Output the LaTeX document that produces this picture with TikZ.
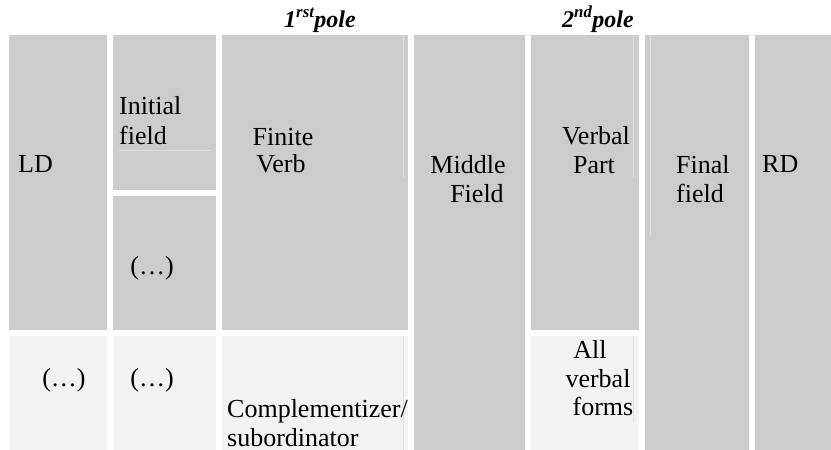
\documentclass[tikz,border=0pt]{standalone}
\usepackage{fontspec}
\setmainfont{Liberation Serif}
\begin{document}
\begin{tikzpicture}[x=1pt,y=-1pt,
  dark/.style={fill=black!20},
  light/.style={fill=black!5},
  seam/.style={draw=black!13,line width=0.7pt},
  lbl/.style={inner sep=0pt,anchor=base west,font=\fontsize{26}{30}\selectfont},
  clbl/.style={inner sep=0pt,anchor=base,font=\fontsize{26}{30}\selectfont},
  pole/.style={inner sep=0pt,anchor=base,font=\fontsize{24}{28}\selectfont\bfseries\itshape}]
\useasboundingbox (0,0) rectangle (831,450);

% upper row (dark cells)
\fill[dark] (9,35) rectangle (107,330);     % LD
\fill[dark] (113,35) rectangle (216,190);   % initial field
\fill[dark] (113,196) rectangle (216,330);  % (...)
\fill[dark] (222,35) rectangle (408,330);   % finite verb
\fill[dark] (414,35) rectangle (525,450);   % middle field
\fill[dark] (531,35) rectangle (639,330);   % verbal part
\fill[dark] (645,35) rectangle (749,450);   % final field
\fill[dark] (755,35) rectangle (831,450);   % RD

% lower row (light cells)
\fill[light] (9,336) rectangle (107,450);
\fill[light] (113,336) rectangle (216,450);
\fill[light] (222,336) rectangle (408,450);
\fill[light] (531,336) rectangle (639,450);

% faint inner cell borders
\draw[seam] (118,150) -- (211,150);
\draw[seam] (403,35) -- (403,178);
\draw[seam] (403,336) -- (403,450);
\draw[seam] (633,35) -- (633,178);
\draw[seam] (633,336) -- (633,422);
\draw[seam] (650,35) -- (650,236);

% pole headings
\node[pole] (p1) at (320,27) {1\textsuperscript{rst}pole};
\node[pole] (p2) at (598,27) {2\textsuperscript{nd}pole};

% cell labels
\node[lbl] (ld) at (18,172) {LD};
\node[lbl] (ini1) at (119,114) {Initial};
\node[lbl] (ini2) at (119,144) {field};
\node[clbl] (fv1) at (283,145) {Finite};
\node[clbl] (fv2) at (281,172) {Verb};
\node[clbl] (e1) at (152,274) {(\dots)};
\node[clbl] (mf1) at (468,173) {Middle};
\node[clbl] (mf2) at (477,202) {Field};
\node[clbl] (vp1) at (596,144) {Verbal};
\node[clbl] (vp2) at (594,173) {Part};
\node[lbl] (ff1) at (676,173) {Final};
\node[lbl] (ff2) at (676,202) {field};
\node[lbl] (rd) at (762,172) {RD};

\node[clbl] (e2) at (64,386) {(\dots)};
\node[clbl] (e3) at (152,386) {(\dots)};
\node[lbl] (cs1) at (227,417) {Complementizer/};
\node[lbl] (cs2) at (227,446) {subordinator};
\node[clbl] (av1) at (590,358) {All};
\node[clbl] (av2) at (598,387) {verbal};
\node[clbl] (av3) at (603,415) {forms};
\end{tikzpicture}
\end{document}
